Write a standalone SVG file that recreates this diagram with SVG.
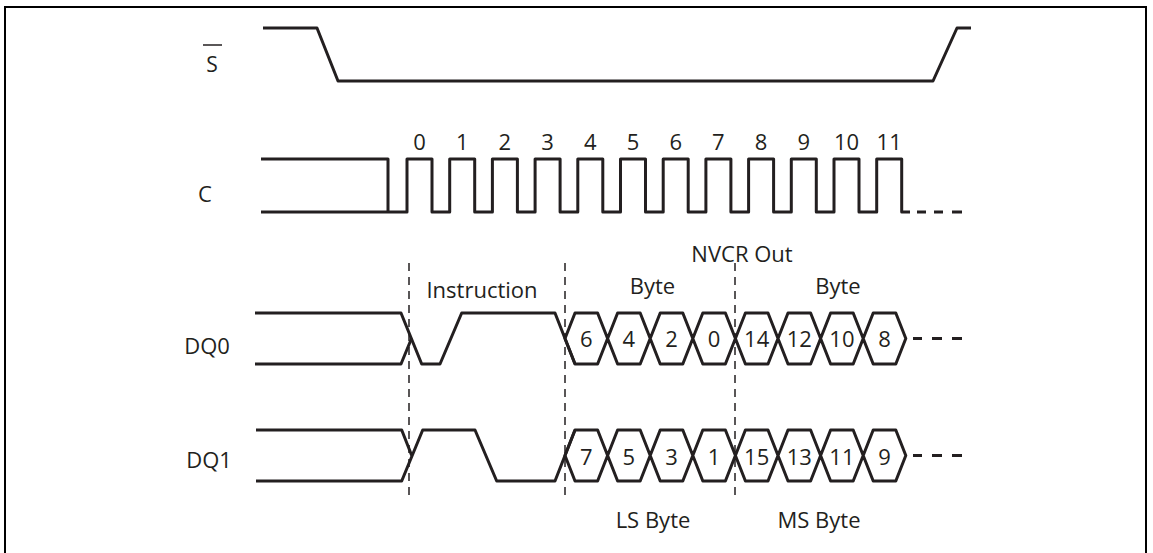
<svg xmlns="http://www.w3.org/2000/svg" width="1153" height="553" viewBox="0 0 1153 553">
<style>
.w{fill:none;stroke:#231f20;stroke-width:3;stroke-linejoin:round}
.g{fill:none;stroke:#231f20;stroke-width:1.5;stroke-dasharray:8 6}
.f{fill:none;stroke:#000;stroke-width:2}
text{font-family:"Open Sans","Liberation Sans",sans-serif;font-size:22px;fill:#231f20;text-anchor:middle}
</style>
<rect width="1153" height="553" fill="#fff"/>
<path class="f" d="M5,553 V7 H1146 V553"/>
<g id="sig-S">
<text x="212" y="72" style="font-size:21px">S</text>
<line x1="203" y1="45" x2="222" y2="45" stroke="#231f20" stroke-width="1.5"/>
<path class="w" d="M263,28 H317 L338,81 H933 L957,28 H971"/>
</g>
<g id="sig-C">
<text x="205" y="202">C</text>
<path class="w" d="M261,159 H388 V212"/>
<path class="w" d="M261,212 H407 V159 H432 V212 H449.7 V159 H474.7 V212 H492.4 V159 H517.4 V212 H535.1 V159 H560.1 V212 H577.8 V159 H602.8 V212 H620.5 V159 H645.5 V212 H663.2 V159 H688.2 V212 H705.9 V159 H730.9 V212 H748.6 V159 H773.6 V212 H791.3 V159 H816.3 V212 H834 V159 H859 V212 H876.7 V159 H901.7 V212 H910 M917,212 H926 M934,212 H943 M952,212 H962"/>
<g>
<text x="419.5" y="150">0</text><text x="462.2" y="150">1</text><text x="504.9" y="150">2</text><text x="547.6" y="150">3</text>
<text x="590.3" y="150">4</text><text x="633" y="150">5</text><text x="675.7" y="150">6</text><text x="718.4" y="150">7</text>
<text x="761.1" y="150">8</text><text x="803.8" y="150">9</text><text x="846.5" y="150">10</text><text x="889.2" y="150">11</text>
</g>
</g>
<g id="guides">
<line class="g" x1="409" y1="263" x2="409" y2="497"/>
<line class="g" x1="565" y1="263" x2="565" y2="497"/>
<line class="g" x1="735" y1="263" x2="735" y2="497"/>
</g>
<g id="labels">
<text x="482" y="298">Instruction</text>
<text x="652.5" y="294">Byte</text>
<text x="838" y="294">Byte</text>
<text x="742" y="262">NVCR Out</text>
<text x="653" y="528">LS Byte</text>
<text x="819" y="528">MS Byte</text>
</g>
<g id="sig-DQ0">
<text x="207" y="354">DQ0</text>
<path class="w" d="M255,313 H401 L421.7,364 H440 L461.7,313 H555 L575,364"/>
<path class="w" d="M255,364 H401 L411.5,338.5"/>
<path class="w" d="M565,338.5 L575,313 H597.6 L617.6,364 H640.2 L660.2,313 H682.8 L702.8,364 H725.4 L745.4,313 H768 L788,364 H810.6 L830.6,313 H853.2 L873.2,364 H895.8 L905.8,338.5 L895.8,313 H873.2 L853.2,364 H830.6 L810.6,313 H788 L768,364 H745.4 L725.4,313 H702.8 L682.8,364 H660.2 L640.2,313 H617.6 L597.6,364 H575 Z"/>
<path class="w" d="M913,338.5 H922 M932,338.5 H942 M952,338.5 H962"/>
<text x="586.3" y="347">6</text><text x="628.9" y="347">4</text><text x="671.5" y="347">2</text><text x="714.1" y="347">0</text>
<text x="756.7" y="347">14</text><text x="799.3" y="347">12</text><text x="841.9" y="347">10</text><text x="884.5" y="347">8</text>
</g>
<g id="sig-DQ1">
<text x="209" y="468">DQ1</text>
<path class="w" d="M256,430 H401.7 L411.7,455.5"/>
<path class="w" d="M256,481 H401.7 L422.7,430 H475 L496.7,481 H555 L575,430"/>
<path class="w" d="M565,455.5 L575,430 H597.6 L617.6,481 H640.2 L660.2,430 H682.8 L702.8,481 H725.4 L745.4,430 H768 L788,481 H810.6 L830.6,430 H853.2 L873.2,481 H895.8 L905.8,455.5 L895.8,430 H873.2 L853.2,481 H830.6 L810.6,430 H788 L768,481 H745.4 L725.4,430 H702.8 L682.8,481 H660.2 L640.2,430 H617.6 L597.6,481 H575 Z"/>
<path class="w" d="M913,455.5 H922 M932,455.5 H942 M952,455.5 H962"/>
<text x="586.3" y="465">7</text><text x="628.9" y="465">5</text><text x="671.5" y="465">3</text><text x="714.1" y="465">1</text>
<text x="756.7" y="465">15</text><text x="799.3" y="465">13</text><text x="841.9" y="465">11</text><text x="884.5" y="465">9</text>
</g>
</svg>
